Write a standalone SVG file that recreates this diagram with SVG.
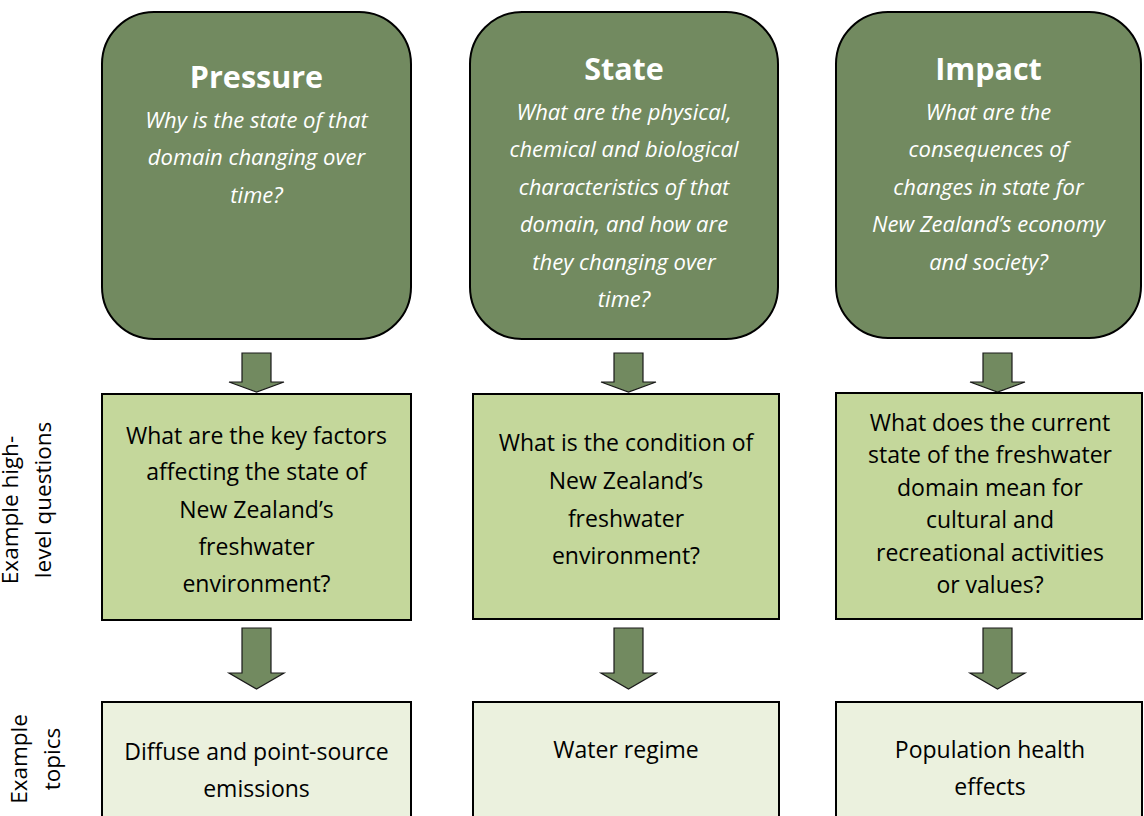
<svg xmlns="http://www.w3.org/2000/svg" width="1144" height="816" viewBox="0 0 1144 816">
<style>
.top{fill:#728A60;stroke:#000;stroke-width:2}
.mid{fill:#C4D79B;stroke:#000;stroke-width:2}
.bot{fill:#EBF1DE;stroke:#000;stroke-width:2}
.arr{fill:#728A60;stroke:#1a1a1a;stroke-width:1.2}
.ttl{font-family:"Open Sans","Liberation Sans",sans-serif;font-weight:bold;font-size:30.5px;fill:#fff;text-anchor:middle}
.it{font-family:"Open Sans","Liberation Sans",sans-serif;font-style:italic;font-size:22px;fill:#fff;text-anchor:middle}
.tx{font-family:"Open Sans","Liberation Sans",sans-serif;font-size:23px;fill:#000;text-anchor:middle}
.lab{font-family:"Open Sans","Liberation Sans",sans-serif;font-size:22.5px;fill:#000;text-anchor:middle}
</style>
<rect width="1144" height="816" fill="#fff"/>
<g id="connectors">
<polygon class="arr" points="242,353 271,353 271,382 284,382 256.5,392 229,382 242,382"/>
<polygon class="arr" points="242,628 271,628 271,673 284,673 256.5,689 229,673 242,673"/>
<polygon class="arr" points="614,353 643,353 643,382 656,382 628.5,392 601,382 614,382"/>
<polygon class="arr" points="614,628 643,628 643,673 656,673 628.5,689 601,673 614,673"/>
<polygon class="arr" points="983,353 1012,353 1012,382 1025,382 997.5,392 970,382 983,382"/>
<polygon class="arr" points="983,628 1012,628 1012,673 1025,673 997.5,689 970,673 983,673"/>
</g>
<g id="pressure">
<rect class="top" x="102" y="12" width="309" height="327" rx="52"/>
<text class="ttl" x="256.5" y="88">Pressure</text>
<text class="it" x="256.5" y="128">Why is the state of that</text>
<text class="it" x="256.5" y="165">domain changing over</text>
<text class="it" x="256.5" y="203">time?</text>
</g>
<g id="state">
<rect class="top" x="470" y="12" width="308" height="327" rx="52"/>
<text class="ttl" x="624" y="80">State</text>
<text class="it" x="624" y="120">What are the physical,</text>
<text class="it" x="624" y="157">chemical and biological</text>
<text class="it" x="624" y="195">characteristics of that</text>
<text class="it" x="624" y="232">domain, and how are</text>
<text class="it" x="624" y="270">they changing over</text>
<text class="it" x="624" y="307">time?</text>
</g>
<g id="impact">
<rect class="top" x="836" y="12" width="305" height="326" rx="52"/>
<text class="ttl" x="988.5" y="80">Impact</text>
<text class="it" x="988.5" y="120">What are the</text>
<text class="it" x="988.5" y="157">consequences of</text>
<text class="it" x="988.5" y="195">changes in state for</text>
<text class="it" x="988.5" y="232">New Zealand’s economy</text>
<text class="it" x="988.5" y="270">and society?</text>
</g>
<g id="pressure-question">
<rect class="mid" x="102" y="394" width="309" height="226"/>
<text class="tx" x="256.5" y="444">What are the key factors</text>
<text class="tx" x="256.5" y="480">affecting the state of</text>
<text class="tx" x="256.5" y="518">New Zealand’s</text>
<text class="tx" x="256.5" y="555">freshwater</text>
<text class="tx" x="256.5" y="592">environment?</text>
</g>
<g id="state-question">
<rect class="mid" x="473" y="394" width="306" height="225"/>
<text class="tx" x="626" y="451">What is the condition of</text>
<text class="tx" x="626" y="489">New Zealand’s</text>
<text class="tx" x="626" y="527">freshwater</text>
<text class="tx" x="626" y="564">environment?</text>
</g>
<g id="impact-question">
<rect class="mid" x="836" y="393" width="306" height="226"/>
<text class="tx" x="990" y="431">What does the current</text>
<text class="tx" x="990" y="463">state of the freshwater</text>
<text class="tx" x="990" y="496">domain mean for</text>
<text class="tx" x="990" y="528">cultural and</text>
<text class="tx" x="990" y="561">recreational activities</text>
<text class="tx" x="990" y="593">or values?</text>
</g>
<g id="pressure-topic">
<rect class="bot" x="102" y="702" width="309" height="130"/>
<text class="tx" x="256.5" y="760">Diffuse and point-source</text>
<text class="tx" x="256.5" y="797">emissions</text>
</g>
<g id="state-topic">
<rect class="bot" x="473" y="702" width="306" height="130"/>
<text class="tx" x="626" y="758">Water regime</text>
</g>
<g id="impact-topic">
<rect class="bot" x="836" y="702" width="306" height="130"/>
<text class="tx" x="990" y="758">Population health</text>
<text class="tx" x="990" y="795">effects</text>
</g>
<g id="row-labels">
<text class="lab" transform="translate(18,510) rotate(-90)">Example high-</text>
<text class="lab" transform="translate(51,500) rotate(-90)">level questions</text>
<text class="lab" transform="translate(27,759) rotate(-90)">Example</text>
<text class="lab" transform="translate(60,759) rotate(-90)">topics</text>
</g>
</svg>
